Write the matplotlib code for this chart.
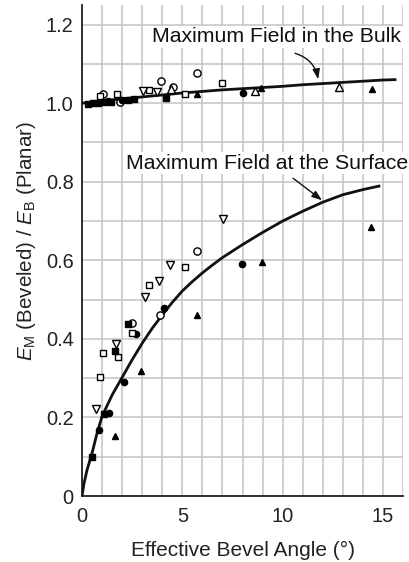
import numpy as np
import matplotlib.pyplot as plt
from matplotlib.ticker import MultipleLocator

plt.rcParams['font.family'] = ['Liberation Sans', 'DejaVu Sans']
plt.rcParams['mathtext.fontset'] = 'custom'
plt.rcParams['mathtext.rm'] = 'Liberation Sans'
plt.rcParams['mathtext.it'] = 'Liberation Sans:italic'

# Curvas teoricas: campo maximo en el volumen y en la superficie
bulk_x = [0, 0.5, 1, 2, 3, 4, 5, 6, 7, 8, 9, 10, 11, 12, 13, 14, 15, 15.6]
bulk_y = [1.0, 1.003, 1.006, 1.011, 1.016, 1.021, 1.026, 1.030, 1.034,
          1.037, 1.040, 1.043, 1.047, 1.050, 1.053, 1.056, 1.059, 1.060]

surf_x = [0, 0.1, 0.25, 0.5, 0.75, 1.0, 1.5, 2.0, 2.5, 3.0, 3.5, 4.0, 4.5,
          5.0, 5.5, 6.0, 6.5, 7.0, 8.0, 9.0, 10.0, 11.0, 12.0, 13.0, 14.0, 14.8]
surf_y = [0, 0.032, 0.066, 0.109, 0.160, 0.203, 0.257, 0.302, 0.347, 0.389,
          0.427, 0.461, 0.493, 0.522, 0.546, 0.568, 0.588, 0.607, 0.640,
          0.671, 0.700, 0.725, 0.748, 0.767, 0.780, 0.789]

# Datos experimentales por tipo de marcador
circ_open_x = [1.03, 1.89, 3.93, 4.55, 5.72, 5.75, 3.87, 2.5]
circ_open_y = [1.023, 1.003, 1.056, 1.041, 1.078, 0.624, 0.461, 0.440]

circ_fill_x = [8.01, 1.3, 2.0, 7.99, 4.1, 2.7, 2.08, 1.33, 0.83]
circ_fill_y = [1.027, 1.005, 1.008, 0.590, 0.478, 0.412, 0.291, 0.211, 0.167]

sq_open_x = [0.90, 1.74, 3.36, 5.13, 6.99, 5.12, 3.36, 2.5, 1.8, 1.05, 0.92]
sq_open_y = [1.018, 1.024, 1.033, 1.024, 1.051, 0.584, 0.536, 0.415, 0.355,
             0.364, 0.302]

sq_fill_x = [0.3, 0.55, 0.8, 1.1, 1.45, 2.3, 2.6, 4.2, 2.3, 1.62, 1.08, 0.5]
sq_fill_y = [0.999, 1.0, 1.001, 1.003, 1.004, 1.008, 1.011, 1.013, 0.438,
             0.368, 0.208, 0.100]

tri_open_x = [4.42, 8.62, 12.83]
tri_open_y = [1.035, 1.031, 1.042]

tri_fill_x = [5.72, 8.94, 14.47, 14.41, 8.96, 5.75, 2.92, 1.62]
tri_fill_y = [1.024, 1.038, 1.037, 0.685, 0.595, 0.461, 0.317, 0.153]

trid_open_x = [3.02, 3.75, 7.01, 4.40, 3.84, 3.13, 1.67, 0.7]
trid_open_y = [1.030, 1.029, 0.704, 0.588, 0.548, 0.506, 0.387, 0.222]

y_ticks = [0, 0.2, 0.4, 0.6, 0.8, 1.0, 1.2]
y_labels = ['0', '0.2', '0.4', '0.6', '0.8', '1.0', '1.2']
x_ticks = [0, 5, 10, 15]

fig = plt.figure(figsize=(4.1, 5.62), dpi=100)
ax = fig.add_axes([0.2, 0.1174, 0.783, 0.8737])

ax.plot(bulk_x, bulk_y, color='#111111', lw=2, zorder=3)
ax.plot(surf_x, surf_y, color='#111111', lw=2, zorder=3)

mk = dict(linestyle='none', markeredgecolor='black', markeredgewidth=1, zorder=4)
ax.plot(circ_open_x, circ_open_y, 'o', ms=5.2, markerfacecolor='white', **mk)
ax.plot(circ_fill_x, circ_fill_y, 'o', ms=4.5, markerfacecolor='black', **mk)
ax.plot(sq_open_x, sq_open_y, 's', ms=4.8, markerfacecolor='white', **mk)
ax.plot(sq_fill_x, sq_fill_y, 's', ms=4.6, markerfacecolor='black', **mk)
ax.plot(tri_open_x, tri_open_y, '^', ms=5.2, markerfacecolor='white', **mk)
ax.plot(tri_fill_x, tri_fill_y, '^', ms=3.8, markerfacecolor='black', **mk)
ax.plot(trid_open_x, trid_open_y, 'v', ms=5.4, markerfacecolor='white', **mk)

ax.set_xlim(0, 16)
ax.set_ylim(0, 1.25)
ax.set_xticks(x_ticks)
ax.set_yticks(y_ticks)
ax.set_yticklabels(y_labels)
ax.xaxis.set_minor_locator(MultipleLocator(1))
ax.yaxis.set_minor_locator(MultipleLocator(0.1))
ax.grid(True, which='both', color='#c4c4c4', lw=1.1, zorder=0)
ax.set_axisbelow(True)
ax.tick_params(which='both', length=0, labelsize=14.4, colors='#222222')
ax.tick_params(axis='x', pad=8)
ax.tick_params(axis='y', pad=6)

for s in ['top', 'right']:
    ax.spines[s].set_visible(False)
for s in ['left', 'bottom']:
    ax.spines[s].set_linewidth(1.3)
    ax.spines[s].set_color('#222222')

ax.set_xlabel('Effective Bevel Angle (°)', fontsize=15, color='#222222', labelpad=11)
ax.set_ylabel(r'$E_{\mathrm{M}}$ (Beveled) / $E_{\mathrm{B}}$ (Planar)',
              fontsize=14.8, color='#222222', va='center')
ax.yaxis.set_label_coords(-0.172, 0.519)

box = dict(facecolor='white', edgecolor='none', pad=1)
ax.text(9.7, 1.169, 'Maximum Field in the Bulk', ha='center', va='center',
        fontsize=15.3, color='#111111', bbox=box, zorder=5)
ax.text(9.22, 0.847, 'Maximum Field at the Surface', ha='center', va='center',
        fontsize=15.3, color='#111111', bbox=box, zorder=5)

flecha = dict(arrowstyle='-|>,head_length=0.6,head_width=0.22', color='#111111', lw=1,
              shrinkA=0, shrinkB=0)
ax.annotate('', xy=(11.77, 1.061), xytext=(10.62, 1.127),
            arrowprops=dict(connectionstyle='arc3,rad=-0.3', **flecha), zorder=5)
ax.annotate('', xy=(11.96, 0.753), xytext=(10.52, 0.809),
            arrowprops=flecha, zorder=5)

plt.savefig('out.png', dpi=100)
